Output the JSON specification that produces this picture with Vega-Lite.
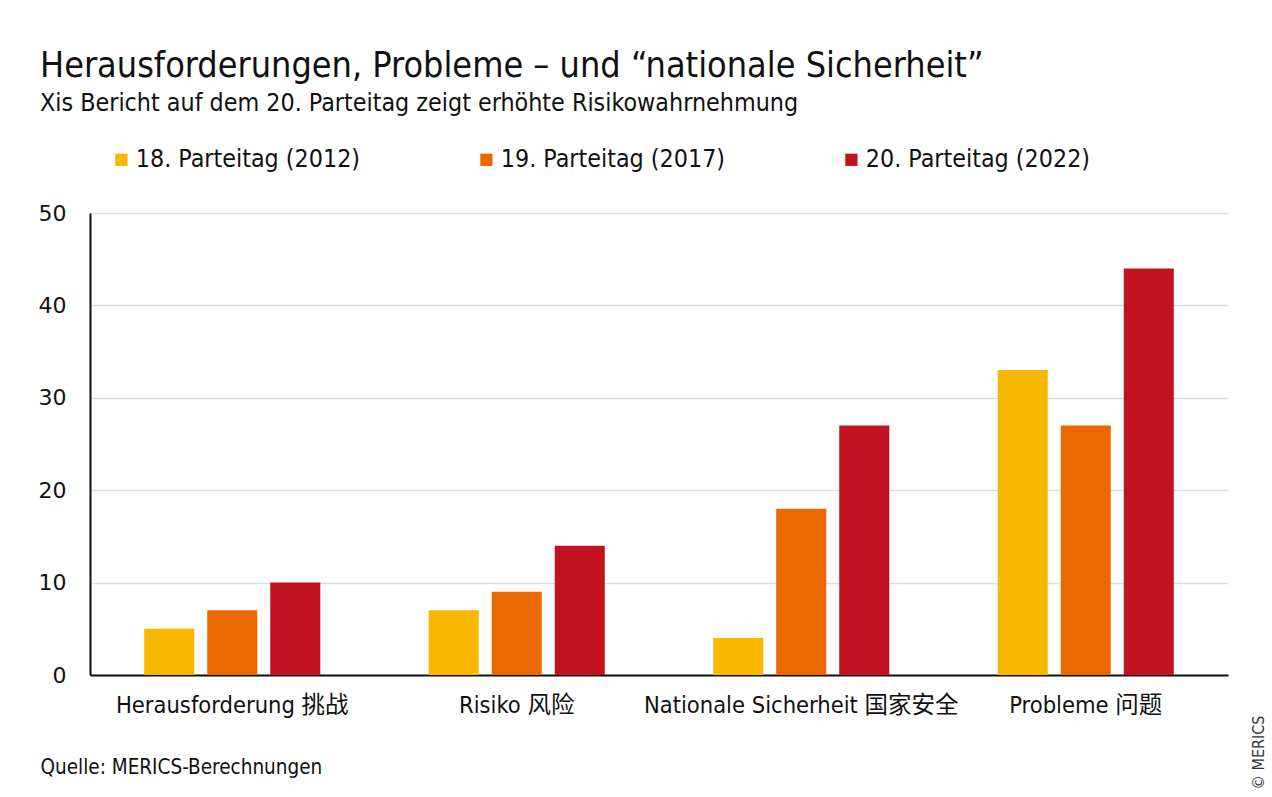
{
  "$schema": "https://vega.github.io/schema/vega-lite/v6.json",
  "autosize": {"type": "none"},
  "width": 1138,
  "height": 462,
  "padding": {"left": 90, "top": 213, "right": 44, "bottom": 122},
  "background": "white",
  "title": {
    "text": "Herausforderungen, Probleme – und “nationale Sicherheit”",
    "subtitle": "Xis Bericht auf dem 20. Parteitag zeigt erhöhte Risikowahrnehmung",
    "anchor": "start",
    "frame": "group",
    "dx": -50,
    "offset": 30,
    "font": "DejaVu Sans Condensed, Liberation Sans Narrow, sans-serif",
    "fontSize": 35.7,
    "fontWeight": "normal",
    "color": "#111111",
    "subtitleFont": "DejaVu Sans Condensed, Liberation Sans Narrow, sans-serif",
    "subtitleFontSize": 24.8,
    "subtitleColor": "#111111",
    "subtitlePadding": 7
  },
  "data": {
    "values": [
      {"kategorie": "Herausforderung 挑战", "parteitag": "18. Parteitag (2012)", "wert": 5},
      {"kategorie": "Herausforderung 挑战", "parteitag": "19. Parteitag (2017)", "wert": 7},
      {"kategorie": "Herausforderung 挑战", "parteitag": "20. Parteitag (2022)", "wert": 10},
      {"kategorie": "Risiko 风险", "parteitag": "18. Parteitag (2012)", "wert": 7},
      {"kategorie": "Risiko 风险", "parteitag": "19. Parteitag (2017)", "wert": 9},
      {"kategorie": "Risiko 风险", "parteitag": "20. Parteitag (2022)", "wert": 14},
      {"kategorie": "Nationale Sicherheit 国家安全", "parteitag": "18. Parteitag (2012)", "wert": 4},
      {"kategorie": "Nationale Sicherheit 国家安全", "parteitag": "19. Parteitag (2017)", "wert": 18},
      {"kategorie": "Nationale Sicherheit 国家安全", "parteitag": "20. Parteitag (2022)", "wert": 27},
      {"kategorie": "Probleme 问题", "parteitag": "18. Parteitag (2012)", "wert": 33},
      {"kategorie": "Probleme 问题", "parteitag": "19. Parteitag (2017)", "wert": 27},
      {"kategorie": "Probleme 问题", "parteitag": "20. Parteitag (2022)", "wert": 44}
    ]
  },
  "mark": {"type": "bar"},
  "encoding": {
    "x": {
      "field": "kategorie",
      "type": "nominal",
      "sort": ["Herausforderung 挑战", "Risiko 风险", "Nationale Sicherheit 国家安全", "Probleme 问题"],
      "scale": {"paddingInner": 0, "paddingOuter": 0},
      "axis": {
        "title": "Quelle: MERICS-Berechnungen",
        "titleAnchor": "start",
        "titleX": -50,
        "titleY": 98,
        "titleBaseline": "alphabetic",
        "titleFont": "DejaVu Sans Condensed, Liberation Sans Narrow, sans-serif",
        "titleFontSize": 20.5,
        "titleFontWeight": "normal",
        "titleColor": "#111111",
        "labelAngle": 0,
        "labelFont": "DejaVu Sans Condensed, Noto Sans CJK SC, sans-serif",
        "labelFontSize": 23.5,
        "labelColor": "#111111",
        "labelPadding": 18,
        "labelLimit": 400,
        "ticks": false,
        "domainColor": "#111111",
        "domainWidth": 2
      }
    },
    "xOffset": {
      "field": "parteitag",
      "type": "nominal",
      "scale": {"paddingInner": 0.206, "paddingOuter": 0.86}
    },
    "y": {
      "field": "wert",
      "type": "quantitative",
      "scale": {"domain": [0, 50]},
      "axis": {
        "values": [0, 10, 20, 30, 40, 50],
        "title": "© MERICS",
        "titleAngle": 270,
        "titleX": 1168,
        "titleY": 539,
        "titleAlign": "center",
        "titleBaseline": "middle",
        "titleFont": "DejaVu Sans Condensed, sans-serif",
        "titleFontSize": 16,
        "titleFontWeight": "normal",
        "titleColor": "#333333",
        "labelFont": "DejaVu Sans, sans-serif",
        "labelFontSize": 22,
        "labelColor": "#111111",
        "labelPadding": 24,
        "ticks": false,
        "domainColor": "#111111",
        "domainWidth": 2,
        "gridColor": "#dddddd",
        "gridWidth": 1.5
      }
    },
    "color": {
      "field": "parteitag",
      "type": "nominal",
      "scale": {
        "domain": ["18. Parteitag (2012)", "19. Parteitag (2017)", "20. Parteitag (2022)"],
        "range": ["#F8B800", "#EA6800", "#C0121F"]
      },
      "legend": {
        "title": null,
        "orient": "none",
        "legendX": 19,
        "legendY": -66,
        "direction": "horizontal",
        "columns": 3,
        "columnPadding": 113,
        "labelLimit": 400,
        "symbolType": "square",
        "symbolSize": 150,
        "symbolStrokeWidth": 0,
        "symbolOpacity": 1,
        "labelFont": "DejaVu Sans Condensed, Liberation Sans Narrow, sans-serif",
        "labelFontSize": 24.8,
        "labelColor": "#111111",
        "labelOffset": 2
      }
    }
  },
  "config": {
    "view": {"stroke": null}
  }
}
